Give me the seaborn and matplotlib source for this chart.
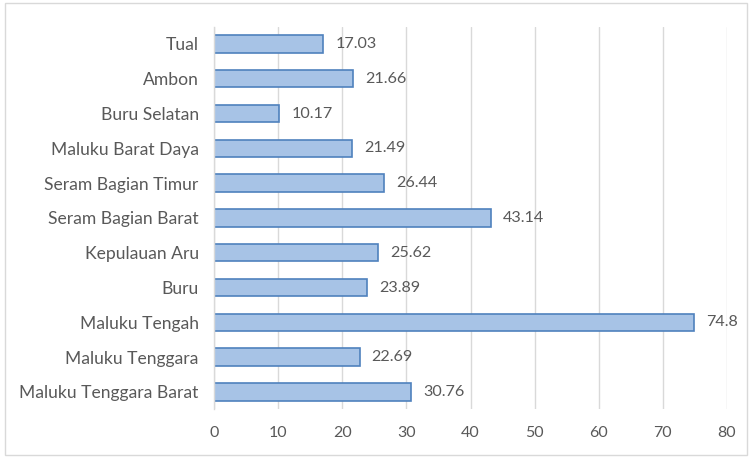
import matplotlib
matplotlib.use("Agg")
import matplotlib.pyplot as plt
import seaborn as sns
import pandas as pd
from matplotlib.patches import Rectangle

regions = ["Tual", "Ambon", "Buru Selatan", "Maluku Barat Daya",
           "Seram Bagian Timur", "Seram Bagian Barat", "Kepulauan Aru",
           "Buru", "Maluku Tengah", "Maluku Tenggara", "Maluku Tenggara Barat"]
values = [17.03, 21.66, 10.17, 21.49, 26.44, 43.14, 25.62, 23.89, 74.8, 22.69, 30.76]
value_labels = ["17.03", "21.66", "10.17", "21.49", "26.44", "43.14", "25.62",
                "23.89", "74.8", "22.69", "30.76"]
x_ticks = [0, 10, 20, 30, 40, 50, 60, 70, 80]

df = pd.DataFrame({"region": regions, "value": values})

sns.set_theme(style="white")
plt.rcParams["font.family"] = ["Lato", "DejaVu Sans"]
text_color = "#595959"

fig = plt.figure(figsize=(7.52, 4.57), dpi=100)
ax = fig.add_axes([0.2846, 0.1042, 0.6822, 0.8376])

sns.barplot(data=df, x="value", y="region", orient="h", ax=ax,
            color="#a7c3e6", edgecolor="#4f81bd", linewidth=1.2,
            width=0.5, saturation=1)

ax.set_xlim(0, 80)
ax.set_ylim(10.5, -0.5)
ax.set_xticks(x_ticks)
ax.set_xticklabels([str(t) for t in x_ticks])
ax.xaxis.grid(True, color="#d9d9d9", linewidth=1)
ax.set_axisbelow(True)
for side in ["top", "right", "bottom"]:
    ax.spines[side].set_visible(False)
ax.spines["left"].set_color("#d9d9d9")
ax.spines["left"].set_linewidth(1)
ax.set_xlabel("")
ax.set_ylabel("")
ax.tick_params(axis="y", length=0, labelsize=12.6, colors=text_color, pad=11)
ax.tick_params(axis="x", length=0, labelsize=11.5, colors=text_color, pad=12)

for i, (v, lab) in enumerate(zip(values, value_labels)):
    ax.text(v + 1.9, i, lab, va="center", ha="left", fontsize=11.6, color=text_color)

# outer chart frame
fig.patches.append(Rectangle((0.007, 0.004), 0.986, 0.99, transform=fig.transFigure,
                             fill=False, edgecolor="#d9d9d9", linewidth=1))

fig.savefig("out.png", dpi=100, facecolor="white")
